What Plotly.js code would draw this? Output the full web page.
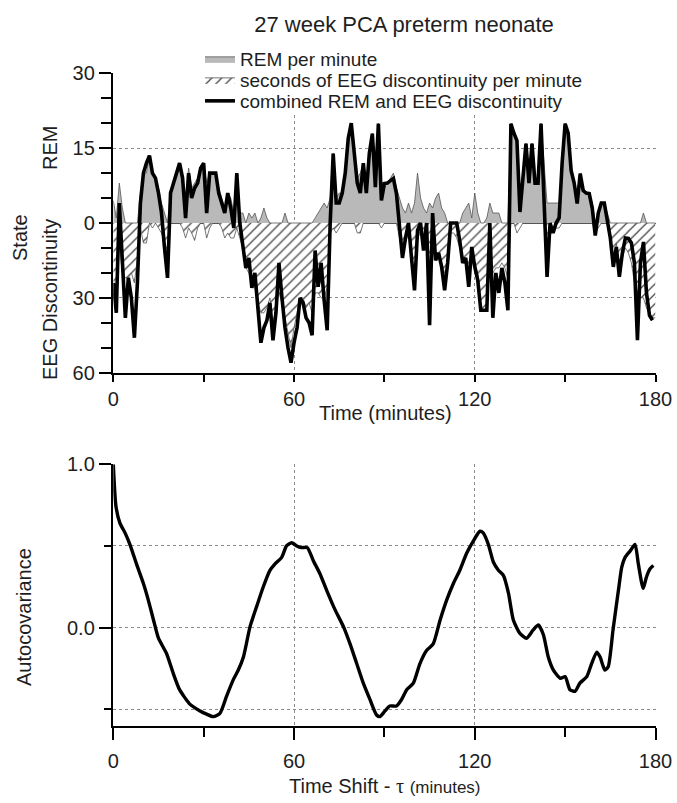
<!DOCTYPE html>
<html>
<head>
<meta charset="utf-8">
<script src="https://cdn.plot.ly/plotly-3.0.1.min.js"></script>
<style>html,body{margin:0;padding:0;background:#fff;}#chart{width:677px;height:803px;}</style>
</head>
<body>
<div id="chart"></div>
<script>
// ---- Top panel: minute-by-minute state (0..180 min) ----
const minutes = Array.from({length: 181}, (_, i) => i);

// REM per minute (counts)
const remPerMinute = [
  4.5,1,8,3,0,0,0,0,0,6,
  10,10,13.5,10,9,7,4,2,0,6,
  8,10.5,12,9,4,11,7,8,9,11,
  12,8,10,10,10,7,5,3,6,5,
  2,10,2,2,0,2,1,2,0,1,
  3,1,0,0,0,0,0,2,0,0,
  0,0,0,0,0,0,0,1,2,3,
  4,3,5,14,5,6,6,10,17,20,
  14,9,10,12,7,14,18,13,20,8,
  8,8,9,10,7,5,3,2,4,2,
  4,10,5,3,2,4,3,5,6,3,
  2,0,0,0,0,0,2,3,4,1,
  6,2,0,0,1,4,2,2,2,0,
  0,0,20,18,16.5,6,10,16,10,16,
  8,8,20,12,4,4,4,4,4,12,
  20,18,11,8,4,10,7,6,6,4,
  0,2,4,4,2,0,0,0,0,0,
  0,0,0,0,0,0,2,0,0,0,
  0
];

// seconds of EEG discontinuity per minute
const eegDiscSeconds = [
  28,36,8,20,22,22,20,24,14,2,
  8,8,0,2,0,2,4,8,16,0,
  0,0,0,2,6,2,4,7,2,0,
  0,6,2,0,0,0,2,6,4,6,
  6,2,6,10,18,20,24,26,32,36,
  36,34,30,40,34,28,32,38,44,50,
  42,36,30,30,34,32,36,28,28,30,
  30,26,4,2,4,2,0,0,0,0,
  0,4,4,0,0,0,0,0,0,2,
  0,0,0,0,0,6,14,8,4,16,
  20,6,4,10,4,36,6,14,14,16,
  20,18,4,4,6,10,14,16,18,14,
  16,20,35,35,35,16,20,18,18,16,
  18,22,0,0,4,2,0,0,0,0,
  0,0,0,0,20,2,4,2,2,0,
  0,0,0,0,0,0,0,0,0,0,
  4,2,0,0,0,4,16,8,18,14,
  10,12,16,24,28,30,30,34,36,38,
  38
];

// combined REM and EEG discontinuity (state units: REM up, discontinuity down), minutes 0..179
const combinedState = [
  -12,-18,4,-8,-19,-11,-15,-23,-12,4,
  10,12,13.5,10,9,6,2,-5,-11,6,
  8,10.5,12,9,1,10,5,7,8,11,
  12,2,10,10,10,6,4,2,6,3,
  -1,10,0,-4,-9,-7,-13,-10,-17.5,-24,
  -21,-19.5,-16,-23.5,-18,-8,-15,-21,-25,-28,
  -24,-21,-15,-16,-19,-20,-22.5,-5.5,-12.8,-8,
  -15.5,-21.5,0,13.9,4,4,6,10,17,20,
  14,8,6,12,6,14,17.9,7.2,19.9,4.5,
  7.9,8,8.5,8.9,5.9,0,-7,-3,0,-7,
  -13.5,-1.5,0,-5.5,0,-20.5,2,-7.5,-6,-8.8,
  -13.5,-8,0,0,0,-3.5,-8,-7,-12.8,-4.8,
  -8.8,-11.5,-17.5,-17.5,-17.5,0,-19,-10,-14,-9,
  -12,-17.5,19.9,18,16.5,2.2,9,15.9,8,15.9,
  8,8,19.9,6,-10.8,0,-2,0,1,12,
  19.9,18,10.5,8,3.9,9.9,6.5,6,5.9,3,
  -2.5,2,4,4,0,-3,-8.8,-4.8,-10.8,-6,
  -3,-3.1,-4,-8,-23.5,-8,-3.8,-14,-18.5,-19.5
];

// y tick labels of the shared State axis
const stateTickVals = [30, 15, 0, -15, -30];
const stateTickText = ['30', '15', '0', '30', '60'];

// ---- Bottom panel: autocovariance ----
const lagMinutes = [0,0.9,2.2,3.9,5.5,7.7,10,11.6,13.3,15,17.7,19.9,22,25.5,28.8,31,33.2,35.4,37.6,39.8,
  41.5,43.2,45.4,47.6,49.8,52,53.7,55.9,57.5,59.2,60.9,62.5,64.4,66.4,68.6,70.8,73.6,76.4,78.6,80.8,
  83,85.2,87.4,88.5,90.2,91.8,94,95.7,97.4,99.6,101.8,104,106.2,108.5,110.7,112.9,115,117.3,119.5,121.7,
  122.8,124.5,126.2,127.9,129.5,131.2,132.8,135,137.2,139.4,141.1,142.8,144.4,146.1,148.4,150,151.6,153.3,154.9,157.2,
  158.8,160.5,161.6,163.2,164.3,165.9,167.7,168.8,169.9,171.6,173.2,174.3,175.9,177,178.2,179.3];
const autocovariance = [1.0,0.74,0.64,0.58,0.51,0.39,0.27,0.17,0.05,-0.065,-0.16,-0.28,-0.38,-0.47,-0.51,-0.53,-0.545,-0.525,-0.42,-0.32,
  -0.26,-0.18,0.006,0.13,0.25,0.35,0.39,0.43,0.50,0.52,0.50,0.49,0.49,0.41,0.33,0.23,0.11,0.006,-0.10,-0.22,
  -0.34,-0.44,-0.535,-0.545,-0.51,-0.48,-0.48,-0.44,-0.38,-0.34,-0.22,-0.14,-0.10,0.047,0.17,0.27,0.35,0.455,0.53,0.59,
  0.58,0.51,0.40,0.35,0.32,0.21,0.047,-0.035,-0.065,-0.014,0.016,-0.045,-0.18,-0.26,-0.31,-0.30,-0.38,-0.39,-0.34,-0.30,
  -0.22,-0.15,-0.18,-0.26,-0.24,-0.014,0.23,0.37,0.43,0.47,0.51,0.39,0.24,0.31,0.36,0.38];

const timeTicks = [0, 60, 120, 180];
const timeMinorTicks = [30, 90, 150];

// ---- build ----
const FONT = 'Liberation Sans, Arial, Helvetica, sans-serif';
const TXT = '#1e1e1e';
const W = 677, H = 803;
const px = v => v / W, py = v => 1 - v / H;

// disc seconds shown on the lower half of the State axis (30 s per half-scale of 15 REM)
const discOnStateAxis = eegDiscSeconds.map(s => -s / 2);

const traces = [
  {
    x: minutes, y: discOnStateAxis, xaxis: 'x', yaxis: 'y',
    type: 'scatter', mode: 'lines', fill: 'tozeroy',
    name: 'seconds of EEG discontinuity per minute', legend: 'legend2',
    line: {color: '#555', width: 0.8},
    fillcolor: 'white',
    fillpattern: {shape: '/', fgcolor: '#444', bgcolor: 'white', size: 7, solidity: 0.18}
  },
  {
    x: minutes, y: remPerMinute, xaxis: 'x', yaxis: 'y',
    type: 'scatter', mode: 'lines', fill: 'tozeroy',
    name: 'REM per minute', legend: 'legend',
    line: {color: '#555', width: 0.8},
    fillcolor: '#b9b9b9'
  },
  {
    x: minutes.slice(0, combinedState.length), y: combinedState, xaxis: 'x', yaxis: 'y',
    type: 'scatter', mode: 'lines',
    name: 'combined REM and EEG discontinuity', legend: 'legend3',
    line: {color: '#000', width: 3.6}
  },
  {
    x: lagMinutes, y: autocovariance, xaxis: 'x2', yaxis: 'y2',
    type: 'scatter', mode: 'lines', showlegend: false,
    line: {color: '#000', width: 3.4, shape: 'spline', smoothing: 0.6}
  }
];

const tickFont = {family: FONT, size: 20, color: TXT};
const gridCommon = {gridcolor: '#8a8a8a', griddash: 'dot', gridwidth: 1};
const xDomain = [px(113.3), px(655.5)];

const legendRow = cy => ({x: px(200), xanchor: 'left', y: py(cy), yanchor: 'middle',
  bgcolor: 'rgba(0,0,0,0)', borderwidth: 0, font: {family: FONT, size: 19, color: TXT}, itemwidth: 30});

const layout = {
  width: W, height: H,
  margin: {l: 0, r: 0, t: 0, b: 0},
  paper_bgcolor: 'white', plot_bgcolor: 'white',
  font: {family: FONT, color: TXT},
  title: {text: '27 week PCA preterm neonate', font: {family: FONT, size: 22, color: TXT},
          x: px(404), xanchor: 'center', y: py(24), yanchor: 'middle'},
  showlegend: true,
  legend: legendRow(59),
  legend2: legendRow(80),
  legend3: legendRow(101),
  // white panel behind the legend rows (hides the grid there, as in the original)
  shapes: [
    {type: 'rect', xref: 'paper', yref: 'paper', x0: px(200), x1: px(600), y0: py(113), y1: py(45),
     fillcolor: 'white', line: {width: 0}, layer: 'above'}
  ],
  xaxis: Object.assign({
    domain: xDomain, anchor: 'y', range: [0, 180], autorange: false,
    showline: true, linecolor: '#000', linewidth: 2.5,
    ticks: 'outside', ticklen: 7, tickwidth: 2, tickcolor: '#000',
    tickmode: 'array', tickvals: timeTicks, tickfont: tickFont,
    showgrid: true, zeroline: false, automargin: false,
    minor: {tickmode: 'array', tickvals: timeMinorTicks, ticks: 'outside', ticklen: 7, tickwidth: 2, tickcolor: '#000', showgrid: false}
  }, gridCommon),
  yaxis: Object.assign({
    domain: [py(372.7), py(73.3)], anchor: 'x', range: [-30, 30], autorange: false,
    showline: true, linecolor: '#000', linewidth: 2.5,
    ticks: 'outside', ticklen: 12, tickwidth: 2, tickcolor: '#000',
    tickmode: 'array', tickvals: stateTickVals, ticktext: stateTickText, tickfont: tickFont,
    showgrid: true, zeroline: true, zerolinecolor: '#555', zerolinewidth: 1, automargin: false,
    minor: {tickmode: 'linear', tick0: 0, dtick: 5, ticks: 'outside', ticklen: 10, tickwidth: 2, tickcolor: '#000', showgrid: false}
  }, gridCommon),
  xaxis2: Object.assign({
    domain: xDomain, anchor: 'y2', range: [0, 180], autorange: false,
    showline: true, linecolor: '#000', linewidth: 2.5,
    ticks: 'outside', ticklen: 12, tickwidth: 2, tickcolor: '#000',
    tickmode: 'array', tickvals: timeTicks, tickfont: tickFont, ticklabelstandoff: 4,
    showgrid: true, zeroline: false, automargin: false,
    minor: {tickmode: 'array', tickvals: timeMinorTicks, ticks: 'outside', ticklen: 9, tickwidth: 2, tickcolor: '#000', showgrid: false}
  }, gridCommon),
  yaxis2: Object.assign({
    domain: [py(725.6), py(464.3)], anchor: 'x2', range: [-0.6, 1.0], autorange: false,
    showline: true, linecolor: '#000', linewidth: 2.5,
    ticks: 'outside', ticklen: 12, tickwidth: 2, tickcolor: '#000',
    tickmode: 'array', tickvals: [0, 1], ticktext: ['0.0', '1.0'], tickfont: tickFont,
    showgrid: true, zeroline: false, automargin: false,
    minor: Object.assign({tickmode: 'array', tickvals: [-0.5, 0.5], ticks: 'outside', ticklen: 7, tickwidth: 2, tickcolor: '#000', showgrid: true}, gridCommon)
  }, gridCommon),
  annotations: [
    {text: 'State', xref: 'paper', yref: 'paper', x: px(20), y: py(238), textangle: -90, showarrow: false,
     xanchor: 'center', yanchor: 'middle', font: {family: FONT, size: 20, color: TXT}},
    {text: 'REM', xref: 'paper', yref: 'paper', x: px(50), y: py(148), textangle: -90, showarrow: false,
     xanchor: 'center', yanchor: 'middle', font: {family: FONT, size: 20, color: TXT}},
    {text: 'EEG Discontinuity', xref: 'paper', yref: 'paper', x: px(50), y: py(300), textangle: -90, showarrow: false,
     xanchor: 'center', yanchor: 'middle', font: {family: FONT, size: 20, color: TXT}},
    {text: 'Time (minutes)', xref: 'paper', yref: 'paper', x: px(385), y: py(413), showarrow: false,
     xanchor: 'center', yanchor: 'middle', font: {family: FONT, size: 20, color: TXT}},
    {text: 'Autocovariance', xref: 'paper', yref: 'paper', x: px(24), y: py(617), textangle: -90, showarrow: false,
     xanchor: 'center', yanchor: 'middle', font: {family: FONT, size: 20, color: TXT}},
    {text: 'Time Shift - <span style="font-family:Liberation Serif, Times New Roman, serif">τ</span> <span style="font-size:17px">(minutes)</span>',
     xref: 'paper', yref: 'paper', x: px(385), y: py(786), showarrow: false,
     xanchor: 'center', yanchor: 'middle', font: {family: FONT, size: 20, color: TXT}}
  ]
};

Plotly.newPlot('chart', traces, layout, {displayModeBar: false, staticPlot: true});
</script>
</body>
</html>
